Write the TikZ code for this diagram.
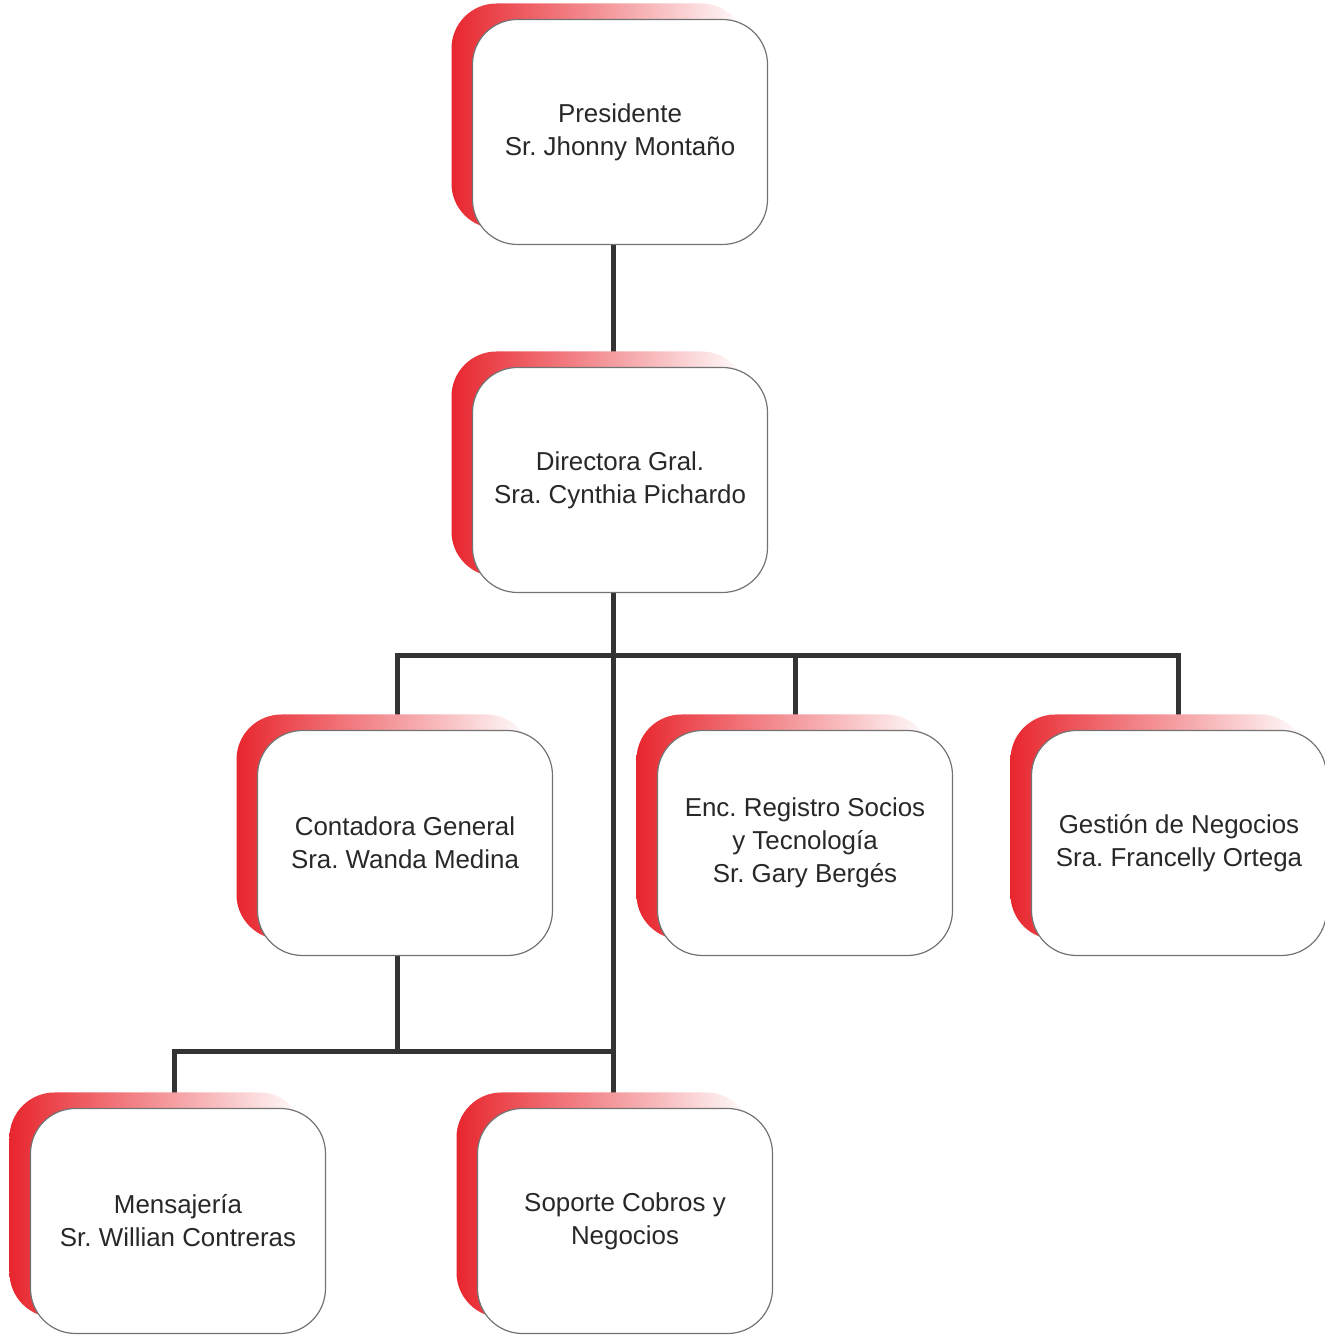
\documentclass[tikz,border=0pt]{standalone}
\usepackage{fontspec}
\setmainfont{Liberation Sans}
\usepackage{tikz}
\usetikzlibrary{shadows}
\usetikzlibrary{backgrounds}
\definecolor{boxred}{RGB}{232,38,46}
\definecolor{linegray}{RGB}{51,51,51}
\definecolor{textgray}{RGB}{40,40,40}
\tikzstyle{orgbox}=[draw=black!55,line width=1.2pt,fill=white,rounded corners=45bp,
  minimum width=295bp,minimum height=225bp,align=center,text=textgray,
  font=\fontsize{26}{33}\selectfont\frenchspacing,
  general shadow={shadow xshift=-21bp,shadow yshift=16bp,left color=boxred,middle color=boxred!80,right color=white}]
\tikzstyle{orgline}=[line width=5bp,draw=linegray]

\begin{document}
\begin{tikzpicture}[x=1bp,y=1bp]
	\useasboundingbox (0,0) rectangle (1325,1336);
	\node[orgbox] (pres) at (620,1204) {Presidente\\Sr. Jhonny Montaño};
	\node[orgbox] (dir)  at (620,856)  {Directora Gral.\\Sra. Cynthia Pichardo};
	\node[orgbox] (cont) at (405,493)  {Contadora General\\Sra. Wanda Medina};
	\node[orgbox] (enc)  at (805,493)  {Enc. Registro Socios\\y Tecnología\\Sr. Gary Bergés};
	\node[orgbox] (gest) at (1179,493) {Gestión de Negocios\\Sra. Francelly Ortega};
	\node[orgbox] (mens) at (178,115)  {Mensajería\\Sr. Willian Contreras};
	\node[orgbox] (sop)  at (625,115)  {Soporte Cobros y\\Negocios};
	\coordinate (busA) at (0,680);
	\coordinate (busB) at (0,284);
	\begin{scope}[on background layer]
	  \draw[orgline] ([xshift=-7bp]pres.south) -- ([xshift=-7bp]pres.south |- dir.north);
	  \draw[orgline] ([xshift=-7bp]dir.south) -- ([xshift=-7bp]dir.south |- busB);
	  \draw[orgline] ([xshift=-8bp]cont.north) -- ([xshift=-8bp]cont.north |- busA)
	    -- ([xshift=-1bp]gest.north |- busA) -- ([xshift=-1bp]gest.north);
	  \draw[orgline] ([xshift=-10bp]enc.north) -- ([xshift=-10bp]enc.north |- busA);
	  \draw[orgline] ([xshift=-8bp]cont.south) -- ([xshift=-8bp]cont.south |- busB);
	  \draw[orgline] ([xshift=-4bp]mens.north) -- ([xshift=-4bp]mens.north |- busB)
	    -- ([xshift=-12bp]sop.north |- busB) -- ([xshift=-12bp]sop.north);
	\end{scope}
\end{tikzpicture}
\end{document}
